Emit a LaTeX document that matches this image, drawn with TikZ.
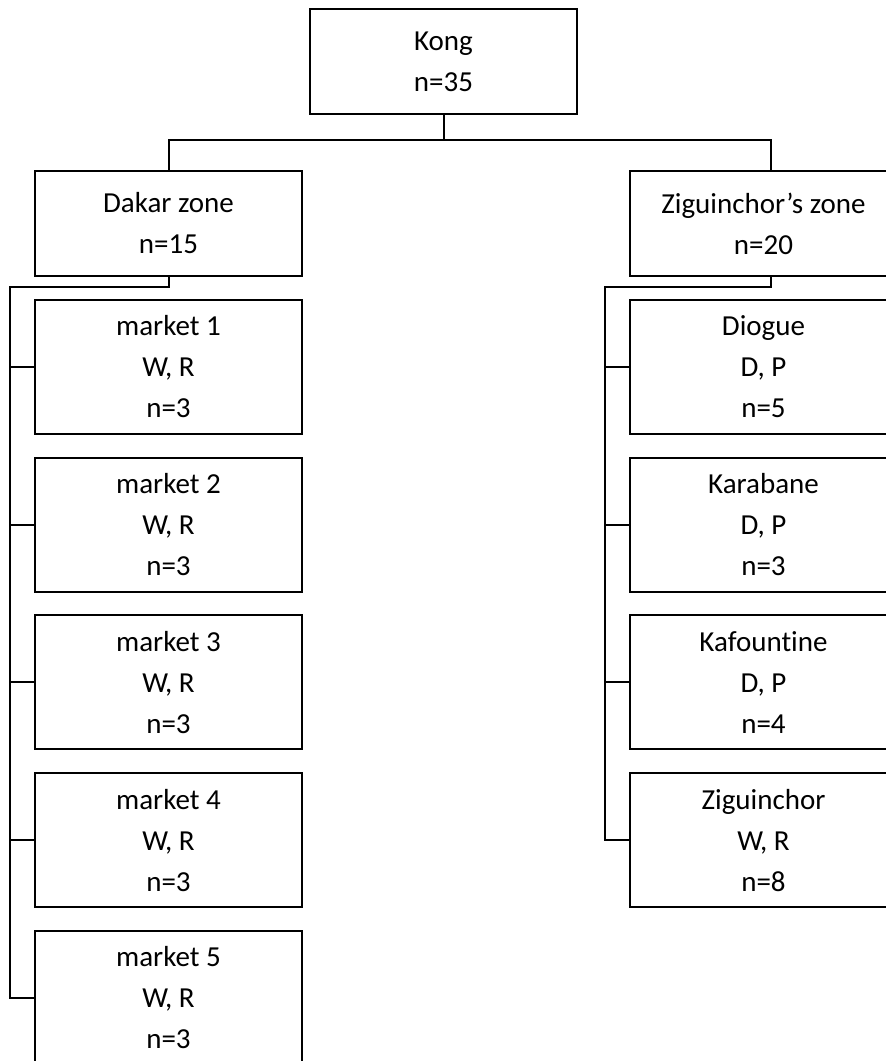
\documentclass[tikz,border=0pt]{standalone}
\usepackage{fontspec}
\setmainfont{Carlito}[Ligatures=NoCommon]
\usepackage{tikz}
\usetikzlibrary{positioning}

\begin{document}
\begin{tikzpicture}[
  x=1pt, y=1pt,
  node distance=21.75pt,
  box/.style={rectangle, draw=black, line width=2pt,
    minimum width=267pt, minimum height=105pt, align=center,
    inner sep=0pt, font=\fontsize{29}{41}\selectfont},
  market/.style={box, minimum height=134pt},
  link/.style={draw=black, line width=2pt}
]
\useasboundingbox (0,0) rectangle (886,1061);
\clip (0,0) rectangle (886,1061);

% Root
\node[box] (kong) at (443.5,999.5) {Kong\\n=35};

% Zones
\node[box] (dakar) at (168.5,837.5) {Dakar zone\\n=15};
\node[box] (zig) at (763.5,837.5) {Ziguinchor’s zone\\n=20};

% Dakar markets
\node[market] (m1) at (168.5,694) {market 1\\W, R\\n=3};
\node[market, below=of m1] (m2) {market 2\\W, R\\n=3};
\node[market, below=of m2] (m3) {market 3\\W, R\\n=3};
\node[market, below=of m3] (m4) {market 4\\W, R\\n=3};
\node[market, below=of m4] (m5) {market 5\\W, R\\n=3};

% Ziguinchor sites
\node[market] (diogue) at (763.5,694) {Diogue\\D, P\\n=5};
\node[market, below=of diogue] (karabane) {Karabane\\D, P\\n=3};
\node[market, below=of karabane] (kafountine) {Kafountine\\D, P\\n=4};
\node[market, below=of kafountine] (ziguinchor) {Ziguinchor\\W, R\\n=8};

% Links
\draw[link] (kong.south) -- ++(0,-25) coordinate (fork) -| (dakar.north);
\draw[link] (fork) -| ([xshift=7.5pt]zig.north);

\draw[link] (dakar.south) -- ++(0,-10) -| ([xshift=-24pt]m5.west) -- (m5.west);
\foreach \m in {m1,m2,m3,m4}
  \draw[link] (\m.west) -- ++(-24,0);

\draw[link] ([xshift=7.5pt]zig.south) -- ++(0,-10)
  -| ([xshift=-24pt]ziguinchor.west) -- (ziguinchor.west);
\foreach \m in {diogue,karabane,kafountine}
  \draw[link] (\m.west) -- ++(-24,0);
\end{tikzpicture}
\end{document}
